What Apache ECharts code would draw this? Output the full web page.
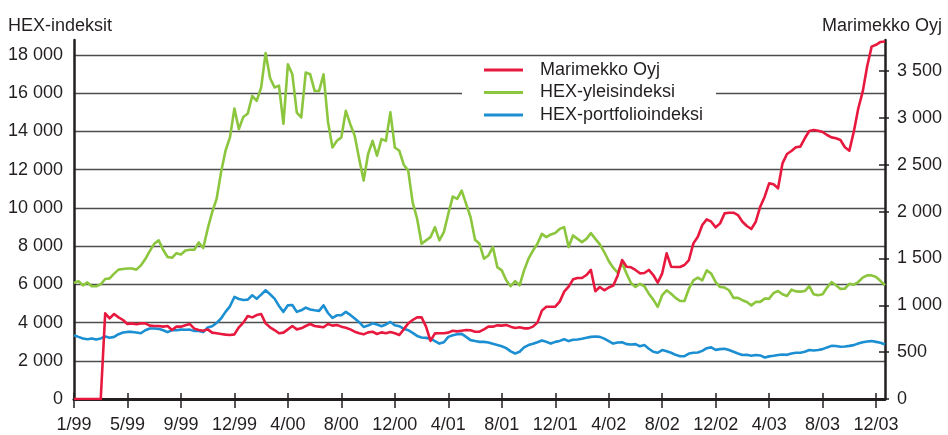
<!DOCTYPE html>
<html>
<head>
<meta charset="utf-8">
<script src="https://cdn.jsdelivr.net/npm/echarts@6/dist/echarts.min.js"></script>
<style>
  html, body { margin: 0; padding: 0; background: #fff; }
  #chart { width: 948px; height: 435px; }
</style>
</head>
<body>
<div id="chart"></div>
<script>
// ---- Data ----
const tickLabels = ['1/99','5/99','9/99','12/99','4/00','8/00','12/00','4/01','8/01','12/01','4/02','8/02','12/02','4/03','8/03','12/03'];
const stepsPerLabel = 12;
const leftTicks = [0, 2000, 4000, 6000, 8000, 10000, 12000, 14000, 16000, 18000];
const rightTicks = [0, 500, 1000, 1500, 2000, 2500, 3000, 3500];

// Marimekko Oyj (right axis)
const marimekko = [
  0,0,0,0,0,0,0,914,861,907,
  871,843,800,807,797,807,807,783,779,779,
  772,779,736,772,772,786,800,751,736,729,
  743,708,701,694,687,683,690,765,815,886,
  871,896,907,807,765,736,701,708,743,779,
  743,754,779,800,779,772,765,800,783,790,
  772,761,743,718,701,690,711,718,694,711,
  701,715,701,683,743,807,843,871,871,772,
  620,700,701,701,708,729,722,729,736,733,
  718,718,743,772,772,786,783,790,772,758,
  765,754,754,772,815,943,985,985,985,1039,
  1145,1199,1277,1291,1291,1323,1377,1150,1195,1160,
  1190,1210,1316,1483,1412,1405,1377,1341,1345,1377,
  1323,1241,1341,1554,1412,1409,1409,1430,1483,1661,
  1732,1857,1917,1892,1832,1874,1981,1988,1988,1963,
  1892,1846,1814,1892,2052,2159,2301,2291,2248,2515,
  2614,2646,2686,2693,2782,2860,2870,2863,2849,2817,
  2792,2782,2764,2686,2650,2853,3100,3280,3550,3760,
  3780,3810,3815
];

// HEX-yleisindeksi (left axis)
const hexYleis = [
  6070,6170,5950,6100,5900,5900,6000,6280,6310,6560,
  6770,6800,6830,6830,6770,6990,7320,7740,8120,8300,
  7810,7430,7390,7630,7560,7770,7810,7810,8190,7900,
  8900,9770,10470,11860,12990,13690,15200,14120,14760,14940,
  15860,15600,16300,18100,16800,16300,16400,14400,17510,16990,
  14990,14730,17080,16990,16120,16120,16990,14500,13160,13510,
  13690,15080,14380,13770,12560,11430,12820,13510,12730,13600,
  13510,15000,13160,12990,12260,11950,10290,9430,8120,8300,
  8470,8990,8300,8730,9690,10590,10470,10900,10210,9510,
  8330,8120,7340,7510,7950,6900,6730,6210,5900,6170,
  5950,6730,7340,7770,8120,8640,8470,8610,8690,8900,
  8990,7950,8560,8380,8210,8380,8680,8380,8090,7690,
  7220,6870,6610,7110,6560,6070,5860,6030,5900,5510,
  5200,4820,5430,5690,5510,5290,5130,5130,5770,6210,
  6350,6210,6730,6560,6120,5860,5830,5690,5290,5290,
  5170,5080,4900,5080,5080,5250,5250,5550,5650,5480,
  5390,5720,5630,5620,5650,5900,5480,5430,5480,5830,
  6120,5950,5760,5770,6030,5980,6120,6350,6470,6470,
  6380,6170,5950
];

// HEX-portfolioindeksi (left axis)
const hexPortfolio = [
  3340,3250,3170,3130,3170,3110,3170,3270,3200,3250,
  3390,3480,3510,3510,3480,3440,3600,3690,3690,3670,
  3600,3500,3600,3600,3630,3620,3630,3560,3560,3500,
  3740,3810,3980,4210,4560,4850,5340,5230,5180,5200,
  5430,5250,5460,5690,5480,5250,4870,4560,4900,4920,
  4560,4640,4780,4680,4640,4610,4900,4500,4240,4380,
  4380,4560,4400,4210,4020,3770,3840,3960,3900,3810,
  3900,4030,3860,3810,3670,3600,3460,3300,3220,3200,
  3160,3030,2900,2970,3250,3340,3390,3410,3250,3080,
  3030,2990,2990,2960,2890,2830,2760,2660,2490,2380,
  2470,2700,2820,2890,2970,3060,2990,2900,2990,3040,
  3130,3030,3100,3110,3150,3200,3250,3270,3250,3160,
  3030,2900,2960,2970,2870,2850,2870,2760,2820,2630,
  2470,2420,2560,2500,2420,2310,2240,2240,2380,2420,
  2430,2520,2660,2700,2570,2610,2630,2560,2470,2380,
  2300,2310,2260,2300,2280,2170,2230,2260,2300,2330,
  2310,2380,2420,2420,2470,2560,2540,2560,2610,2700,
  2780,2770,2730,2750,2780,2820,2900,2970,3010,3030,
  2990,2940,2850
];

const categories = marimekko.map((_, i) => String(i));

// ---- Styling ----
const FONT = 'Liberation Sans, Arial, sans-serif';
const TXT = '#231f20';
const GRID = '#4d4d4d';
const fmt = v => String(v).replace(/\B(?=(\d{3})+(?!\d))/g, ' ');
const isLabelIdx = i => i % stepsPerLabel === 0;
// one colour per split line (0 … 18 000, then the axis top which stays hidden)
const splitColors = leftTicks.map(() => GRID).concat(['rgba(0,0,0,0)']);

const chart = echarts.init(document.getElementById('chart'), null, { renderer: 'canvas' });
chart.setOption({
  animation: false,
  backgroundColor: '#fff',
  textStyle: { fontFamily: FONT, color: TXT },
  title: [
    { text: 'HEX-indeksit', left: 8, top: 17, padding: 0,
      textStyle: { fontFamily: FONT, fontSize: 18, fontWeight: 'normal', color: TXT } },
    { text: 'Marimekko Oyj', right: 6, top: 17, padding: 0,
      textStyle: { fontFamily: FONT, fontSize: 18, fontWeight: 'normal', color: TXT } }
  ],
  legend: {
    orient: 'vertical',
    left: 462, top: 59,
    padding: [0, 13, 0, 22],
    backgroundColor: '#fff',
    itemWidth: 39, itemHeight: 3, itemGap: 0.5,
    icon: 'rect',
    textStyle: { fontFamily: FONT, fontSize: 18, color: TXT, lineHeight: 22, padding: [0, 0, 0, 12] },
    data: ['Marimekko Oyj', 'HEX-yleisindeksi', 'HEX-portfolioindeksi']
  },
  grid: { left: 74, right: 63, top: 40, bottom: 36, containLabel: false },
  xAxis: [
    {
      type: 'category', data: categories, boundaryGap: false, position: 'bottom',
      axisLine: { show: true, lineStyle: { color: TXT, width: 3 } },
      axisTick: { show: true, length: 9, interval: i => isLabelIdx(i), lineStyle: { color: TXT, width: 1.5 } },
      axisLabel: { interval: i => isLabelIdx(i), margin: 17, fontSize: 18, fontFamily: FONT, color: TXT,
        formatter: (v, i) => isLabelIdx(i) ? tickLabels[i / stepsPerLabel] : '' },
      splitLine: { show: false }
    },
    {
      type: 'category', data: categories, boundaryGap: false, position: 'bottom',
      axisLine: { show: false },
      axisTick: { show: true, inside: true, length: 6, interval: i => isLabelIdx(i), lineStyle: { color: TXT, width: 1.5 } },
      axisLabel: { show: false },
      splitLine: { show: false }
    }
  ],
  yAxis: [
    {
      type: 'value', position: 'left', min: 0, max: 18785, interval: 2000,
      axisLine: { show: true, lineStyle: { color: TXT, width: 2.5 } },
      axisTick: { show: false },
      axisLabel: { customValues: leftTicks, margin: 11, fontSize: 18, fontFamily: FONT, color: TXT, formatter: fmt },
      splitLine: { show: true, lineStyle: { color: splitColors, width: 1.3 } }
    },
    {
      type: 'value', position: 'right', min: 0, max: 3831, interval: 500,
      axisLine: { show: true, lineStyle: { color: TXT, width: 2.5 } },
      axisTick: { show: true, length: 4, customValues: rightTicks, lineStyle: { color: TXT, width: 1.5 } },
      axisLabel: { customValues: rightTicks, margin: 12, fontSize: 18, fontFamily: FONT, color: TXT, formatter: fmt },
      splitLine: { show: false }
    },
    {
      type: 'value', position: 'right', min: 0, max: 3831, interval: 500,
      axisLine: { show: false },
      axisTick: { show: true, inside: true, length: 6, customValues: rightTicks, lineStyle: { color: TXT, width: 1.5 } },
      axisLabel: { show: false },
      splitLine: { show: false }
    }
  ],
  series: [
    { name: 'Marimekko Oyj', type: 'line', yAxisIndex: 1, data: marimekko, symbol: 'none',
      color: '#e8193f', lineStyle: { width: 2.6, color: '#e8193f', join: 'round' }, z: 5 },
    { name: 'HEX-yleisindeksi', type: 'line', yAxisIndex: 0, data: hexYleis, symbol: 'none',
      color: '#8cc63e', lineStyle: { width: 2.6, color: '#8cc63e', join: 'round' }, z: 3 },
    { name: 'HEX-portfolioindeksi', type: 'line', yAxisIndex: 0, data: hexPortfolio, symbol: 'none',
      color: '#1b8fd2', lineStyle: { width: 2.6, color: '#1b8fd2', join: 'round' }, z: 4 }
  ]
});
</script>
</body>
</html>
